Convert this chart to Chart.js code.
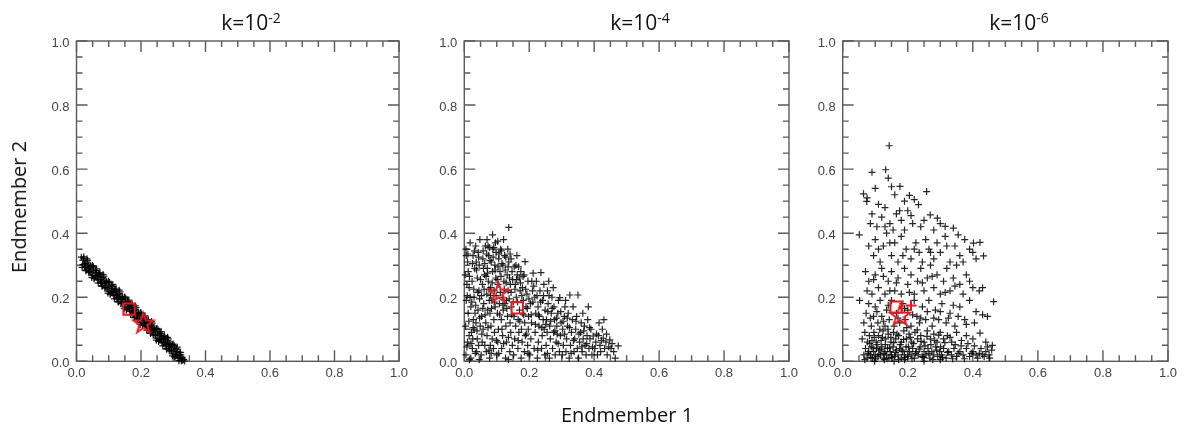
<!DOCTYPE html>
<html><head><meta charset="utf-8">
<script src="https://cdn.jsdelivr.net/npm/chart.js@4.4.1/dist/chart.umd.min.js"></script>
<style>
html,body{margin:0;padding:0;background:#fff;}
body{width:1195px;height:433px;overflow:hidden;position:relative;font-family:"Open Sans",sans-serif;}
canvas{position:absolute;top:0;}
.txt{position:absolute;font-size:20px;line-height:20px;color:#111;white-space:nowrap;}
.title{transform:translateX(-50%);top:12px;font-size:21px;}
.title sup{font-size:14px;vertical-align:baseline;position:relative;top:-7px;}
</style>
</head><body>
<canvas id="c1" width="394" height="400" style="left:20px"></canvas>
<canvas id="c2" width="394" height="400" style="left:410px"></canvas>
<canvas id="c3" width="393" height="400" style="left:790px"></canvas>
<div class="txt title" style="left:251px">k=10<sup>-2</sup></div>
<div class="txt title" style="left:640px">k=10<sup>-4</sup></div>
<div class="txt title" style="left:1019px">k=10<sup>-6</sup></div>
<div class="txt" style="left:627px;top:405px;transform:translateX(-50%)">Endmember 1</div>
<div class="txt" style="left:19px;top:207px;transform:translate(-50%,-50%) rotate(-90deg)">Endmember 2</div>
<script>
// ---------- DATA ----------
const panelTitles = ['k=10-2', 'k=10-4', 'k=10-6'];
const xAxisTitle = 'Endmember 1';
const yAxisTitle = 'Endmember 2';
const tickLabelValues = [0, 0.2, 0.4, 0.6, 0.8, 1.0];
const tickMarkValues = [0,0.05,0.1,0.15,0.2,0.25,0.3,0.35,0.4,0.45,0.5,0.55,0.6,0.65,0.7,0.75,0.8,0.85,0.9,0.95,1.0];
const majorTickValues = [0, 0.2, 0.4, 0.6, 0.8, 1.0];

// k = 1e-2 : samples (Endmember 1, Endmember 2)
const samplesK2 = [
[0.015,0.325],[0.02,0.302],[0.022,0.322],[0.025,0.292],[0.028,0.306],[0.03,0.285],[0.033,0.31],[0.035,0.292],[0.038,0.3],[0.04,0.28],
[0.043,0.298],[0.045,0.278],[0.048,0.297],[0.05,0.268],[0.052,0.282],[0.055,0.26],[0.058,0.285],[0.06,0.267],[0.062,0.276],[0.065,0.255],
[0.068,0.273],[0.07,0.253],[0.072,0.273],[0.075,0.244],[0.078,0.257],[0.08,0.236],[0.082,0.262],[0.085,0.243],[0.088,0.251],[0.09,0.231],
[0.092,0.25],[0.095,0.229],[0.098,0.248],[0.1,0.219],[0.103,0.232],[0.105,0.211],[0.108,0.236],[0.11,0.218],[0.112,0.227],[0.115,0.206],
[0.118,0.224],[0.12,0.204],[0.122,0.224],[0.125,0.195],[0.128,0.208],[0.13,0.187],[0.133,0.212],[0.135,0.194],[0.138,0.202],[0.14,0.182],
[0.142,0.201],[0.145,0.18],[0.148,0.199],[0.15,0.17],[0.153,0.183],[0.155,0.162],[0.158,0.187],[0.16,0.169],[0.162,0.178],[0.165,0.157],
[0.168,0.175],[0.17,0.155],[0.172,0.175],[0.175,0.146],[0.178,0.159],[0.18,0.138],[0.183,0.163],[0.185,0.145],[0.188,0.153],[0.19,0.133],
[0.193,0.151],[0.195,0.131],[0.198,0.15],[0.2,0.121],[0.203,0.134],[0.205,0.113],[0.208,0.138],[0.21,0.12],[0.213,0.128],[0.215,0.108],
[0.218,0.126],[0.22,0.106],[0.223,0.126],[0.225,0.097],[0.228,0.11],[0.23,0.089],[0.233,0.114],[0.235,0.096],[0.238,0.104],[0.24,0.084],
[0.243,0.102],[0.245,0.082],[0.248,0.101],[0.25,0.072],[0.253,0.085],[0.255,0.064],[0.258,0.089],[0.26,0.071],[0.263,0.079],[0.265,0.059],
[0.268,0.077],[0.27,0.057],[0.273,0.077],[0.275,0.048],[0.278,0.061],[0.28,0.04],[0.283,0.065],[0.285,0.047],[0.288,0.055],[0.29,0.035],
[0.293,0.053],[0.295,0.033],[0.298,0.052],[0.3,0.023],[0.303,0.036],[0.305,0.015],[0.308,0.04],[0.31,0.022],[0.313,0.03],[0.315,0.01],
[0.318,0.028],[0.32,0.008],[0.323,0.02],[0.325,0.002],[0.328,0.012],[0.33,0.004],
[0.0175,0.293],[0.0225,0.326],[0.0275,0.297],[0.0325,0.32],[0.0375,0.278],[0.0425,0.296],[0.0475,0.262],[0.0525,0.295],[0.0575,0.264],[0.0625,0.289],
[0.0675,0.244],[0.0725,0.277],[0.0775,0.248],[0.0825,0.271],[0.0875,0.229],[0.0925,0.247],[0.0975,0.213],[0.1025,0.246],[0.1075,0.215],[0.1125,0.24],
[0.1175,0.195],[0.1225,0.228],[0.1275,0.199],[0.1325,0.222],[0.1375,0.18],[0.1425,0.198],[0.1475,0.164],[0.1525,0.197],[0.1575,0.166],[0.1625,0.191],
[0.1675,0.146],[0.1725,0.179],[0.1775,0.15],[0.1825,0.173],[0.1875,0.131],[0.1925,0.149],[0.1975,0.115],[0.2025,0.148],[0.2075,0.117],[0.2125,0.142],
[0.2175,0.097],[0.2225,0.13],[0.2275,0.101],[0.2325,0.124],[0.2375,0.082],[0.2425,0.1],[0.2475,0.066],[0.2525,0.099],[0.2575,0.068],[0.2625,0.093],
[0.2675,0.048],[0.2725,0.081],[0.2775,0.052],[0.2825,0.075],[0.2875,0.033],[0.2925,0.051],[0.2975,0.017],[0.3025,0.05],[0.3075,0.019],[0.3125,0.044],
[0.3175,0.002],[0.3225,0.028],[0.3275,0.003],[0.3325,0.006],[0.3355,0.001],
[0.0195,0.316],[0.0245,0.304],[0.0295,0.283],[0.0345,0.315],[0.0395,0.291],[0.0445,0.277],[0.0495,0.299],[0.0545,0.258],[0.0595,0.283],[0.0645,0.264],
[0.0695,0.267],[0.0745,0.255],[0.0795,0.234],[0.0845,0.266],[0.0895,0.242],[0.0945,0.228],[0.0995,0.25],[0.1045,0.209],[0.1095,0.234],[0.1145,0.215],
[0.1195,0.218],[0.1245,0.206],[0.1295,0.185],[0.1345,0.217],[0.1395,0.193],[0.1445,0.179],[0.1495,0.201],[0.1545,0.16],[0.1595,0.185],[0.1645,0.166],
[0.1695,0.169],[0.1745,0.157],[0.1795,0.136],[0.1845,0.168],[0.1895,0.144],[0.1945,0.13],[0.1995,0.152],[0.2045,0.111],[0.2095,0.136],[0.2145,0.117],
[0.2195,0.12],[0.2245,0.108],[0.2295,0.087],[0.2345,0.119],[0.2395,0.095],[0.2445,0.081],[0.2495,0.103],[0.2545,0.062],[0.2595,0.087],[0.2645,0.068],
[0.2695,0.071],[0.2745,0.059],[0.2795,0.038],[0.2845,0.07],[0.2895,0.046],[0.2945,0.032],[0.2995,0.054],[0.3045,0.013],[0.3095,0.038],[0.3145,0.019],
[0.3195,0.022],[0.3245,0.01]
];
// k = 1e-4
const samplesK4 = [
[0.005,0.02],[0.01,0.06],[0.004,0.11],[0.012,0.15],[0.006,0.19],[0.015,0.23],[0.003,0.27],[0.01,0.31],[0.005,0.35],[0.018,0.37],
[0.02,0.01],[0.025,0.04],[0.022,0.09],[0.028,0.13],[0.02,0.17],[0.03,0.2],[0.024,0.25],[0.032,0.29],[0.027,0.33],[0.035,0.36],
[0.038,0.03],[0.04,0.07],[0.036,0.12],[0.042,0.16],[0.045,0.22],[0.04,0.26],[0.046,0.3],[0.043,0.34],[0.048,0.38],[0.015,0.08],
[0.008,0.24],[0.03,0.1],[0.033,0.15],[0.012,0.28],[0.018,0.2],[0.037,0.31],[0.044,0.05],[0.049,0.11],[0.006,0.33],[0.026,0.07],
[0.052,0.02],[0.055,0.06],[0.058,0.1],[0.053,0.14],[0.06,0.18],[0.056,0.24],[0.062,0.27],[0.057,0.32],[0.065,0.36],[0.068,0.03],
[0.07,0.08],[0.066,0.12],[0.072,0.16],[0.069,0.21],[0.074,0.25],[0.071,0.29],[0.075,0.33],[0.07,0.38],[0.078,0.01],[0.08,0.05],
[0.082,0.11],[0.079,0.15],[0.085,0.19],[0.081,0.23],[0.087,0.28],[0.083,0.31],[0.088,0.35],[0.087,0.395],[0.09,0.04],[0.093,0.09],
[0.091,0.13],[0.095,0.17],[0.092,0.22],[0.097,0.26],[0.094,0.3],[0.098,0.34],[0.096,0.37],[0.063,0.05],[0.077,0.19],[0.086,0.07],
[0.059,0.29],[0.073,0.36],
[0.1,0.02],[0.103,0.06],[0.105,0.1],[0.102,0.15],[0.108,0.18],[0.104,0.24],[0.11,0.28],[0.106,0.32],[0.112,0.35],[0.115,0.04],
[0.118,0.08],[0.114,0.13],[0.12,0.16],[0.117,0.2],[0.122,0.25],[0.119,0.3],[0.124,0.33],[0.121,0.38],[0.127,0.01],[0.13,0.06],
[0.128,0.11],[0.133,0.14],[0.13,0.19],[0.135,0.22],[0.132,0.27],[0.137,0.31],[0.134,0.35],[0.137,0.418],[0.14,0.03],[0.143,0.09],
[0.141,0.12],[0.145,0.17],[0.142,0.24],[0.147,0.28],[0.144,0.32],[0.148,0.05],[0.125,0.18],[0.116,0.1],[0.139,0.26],
[0.152,0.02],[0.155,0.07],[0.158,0.11],[0.153,0.14],[0.16,0.2],[0.157,0.24],[0.163,0.27],[0.159,0.3],[0.165,0.04],[0.168,0.09],
[0.166,0.13],[0.17,0.16],[0.172,0.22],[0.169,0.26],[0.175,0.01],[0.178,0.06],[0.176,0.1],[0.18,0.15],[0.182,0.19],[0.179,0.23],
[0.185,0.03],[0.187,0.311],[0.188,0.08],[0.186,0.12],[0.19,0.17],[0.193,0.21],[0.195,0.05],[0.197,0.1],[0.198,0.14],[0.196,0.25],
[0.162,0.33],[0.174,0.28],[0.184,0.27],
[0.202,0.02],[0.205,0.07],[0.207,0.12],[0.204,0.18],[0.21,0.22],[0.212,0.275],[0.215,0.04],[0.218,0.09],[0.22,0.15],[0.217,0.2],
[0.222,0.25],[0.225,0.01],[0.228,0.06],[0.23,0.11],[0.227,0.17],[0.233,0.22],[0.236,0.277],[0.238,0.04],[0.24,0.08],[0.243,0.13],
[0.241,0.19],[0.245,0.24],[0.248,0.02],[0.246,0.1],[0.249,0.16],[0.208,0.25],[0.231,0.14],
[0.252,0.05],[0.255,0.09],[0.253,0.13],[0.258,0.18],[0.256,0.22],[0.262,0.01],[0.265,0.07],[0.263,0.11],[0.268,0.15],[0.27,0.2],
[0.272,0.04],[0.275,0.09],[0.278,0.13],[0.276,0.17],[0.28,0.02],[0.283,0.06],[0.285,0.11],[0.288,0.15],[0.29,0.19],[0.294,0.199],
[0.293,0.03],[0.296,0.08],[0.298,0.12],[0.26,0.25],[0.274,0.23],
[0.302,0.02],[0.305,0.05],[0.303,0.1],[0.308,0.14],[0.31,0.17],[0.313,0.03],[0.315,0.07],[0.318,0.11],[0.32,0.15],[0.325,0.207],
[0.323,0.01],[0.327,0.05],[0.33,0.09],[0.333,0.13],[0.335,0.17],[0.338,0.03],[0.34,0.07],[0.343,0.1],[0.346,0.14],[0.35,0.207],
[0.348,0.04],[0.312,0.19],
[0.352,0.01],[0.355,0.06],[0.358,0.09],[0.36,0.12],[0.363,0.03],[0.366,0.07],[0.37,0.11],[0.372,0.05],[0.375,0.02],[0.378,0.08],
[0.38,0.13],[0.384,0.04],[0.387,0.07],[0.39,0.1],[0.393,0.02],[0.397,0.079],[0.365,0.15],[0.382,0.17],
[0.402,0.04],[0.405,0.06],[0.41,0.02],[0.413,0.08],[0.418,0.05],[0.42,0.03],[0.425,0.1],[0.428,0.072],[0.432,0.04],[0.436,0.06],
[0.44,0.02],[0.448,0.067],[0.452,0.04],[0.46,0.03],[0.474,0.048],[0.465,0.01],[0.415,0.12],[0.43,0.13],
[0.008,0.045],[0.014,0.125],[0.009,0.205],[0.016,0.265],[0.011,0.335],[0.021,0.055],[0.027,0.105],[0.023,0.185],[0.029,0.225],[0.025,0.305],
[0.031,0.345],[0.034,0.025],[0.039,0.095],[0.035,0.175],[0.041,0.215],[0.038,0.285],[0.044,0.325],[0.047,0.135],[0.047,0.195],[0.05,0.255],
[0.054,0.085],[0.057,0.165],[0.053,0.205],[0.061,0.225],[0.058,0.345],[0.064,0.145],[0.067,0.265],[0.063,0.305],[0.069,0.335],[0.073,0.105],
[0.076,0.225],[0.072,0.275],[0.079,0.315],[0.077,0.355],[0.084,0.165],[0.081,0.205],[0.086,0.245],[0.089,0.325],[0.083,0.025],[0.092,0.185],
[0.095,0.285],[0.091,0.355],[0.099,0.065],[0.098,0.205],[0.101,0.255],[0.104,0.295],[0.107,0.335],[0.103,0.375],[0.109,0.145],[0.111,0.215],
[0.113,0.265],[0.116,0.305],[0.114,0.345],[0.119,0.175],[0.123,0.225],[0.126,0.285],[0.121,0.055],[0.128,0.325],[0.131,0.165],[0.129,0.245],
[0.136,0.075],[0.138,0.195],[0.135,0.295],[0.141,0.335],[0.144,0.215],[0.146,0.145],[0.149,0.255],[0.151,0.185],[0.154,0.295],[0.156,0.225],
[0.161,0.255],[0.164,0.185],[0.167,0.295],[0.171,0.125],[0.173,0.245],[0.177,0.205],[0.181,0.265],[0.183,0.145],[0.189,0.225],[0.191,0.085],
[0.194,0.165],[0.199,0.195],[0.206,0.145],[0.211,0.185],[0.214,0.235],[0.219,0.115],[0.224,0.205],[0.229,0.145],[0.235,0.185],[0.239,0.105],
[0.244,0.205],[0.251,0.115],[0.257,0.155],[0.261,0.205],[0.266,0.125],[0.271,0.165],[0.279,0.095],[0.284,0.135],[0.289,0.055],[0.297,0.155],
[0.304,0.125],[0.309,0.085],[0.317,0.135],[0.324,0.105],[0.329,0.025],[0.336,0.065],[0.344,0.125],[0.353,0.085],[0.362,0.045],[0.368,0.095],
[0.377,0.055],[0.386,0.105],[0.395,0.045],[0.407,0.085],[0.422,0.065],[0.438,0.085],[0.445,0.045],[0.455,0.055],[0.016,0.005],[0.046,0.005],
[0.076,0.035],[0.106,0.025],[0.136,0.005],[0.166,0.065],[0.196,0.025],[0.226,0.035],[0.256,0.025],[0.286,0.085]
];
// k = 1e-6
const samplesK6 = [
[0.065,0.02],[0.07,0.04],[0.075,0.01],[0.08,0.03],[0.085,0.02],[0.088,0.045],[0.092,0.01],[0.095,0.03],[0.1,0.02],[0.104,0.04],
[0.108,0.015],[0.112,0.035],[0.116,0.02],[0.12,0.045],[0.125,0.01],[0.13,0.03],[0.134,0.02],[0.138,0.04],[0.142,0.01],[0.146,0.03],
[0.15,0.02],[0.155,0.045],[0.16,0.015],[0.165,0.035],[0.17,0.02],[0.175,0.04],[0.18,0.01],[0.185,0.03],[0.19,0.02],[0.195,0.045],
[0.2,0.015],[0.205,0.03],[0.21,0.02],[0.215,0.04],[0.22,0.01],[0.226,0.03],[0.232,0.02],[0.238,0.045],[0.244,0.015],[0.25,0.03],
[0.256,0.02],[0.262,0.04],[0.268,0.01],[0.274,0.03],[0.28,0.02],[0.286,0.045],[0.292,0.015],[0.298,0.03],[0.304,0.02],[0.31,0.04],
[0.318,0.01],[0.326,0.03],[0.334,0.02],[0.342,0.04],[0.35,0.015],[0.36,0.03],[0.37,0.02],[0.38,0.04],[0.39,0.015],[0.4,0.03],
[0.41,0.02],[0.42,0.025],[0.43,0.02],[0.44,0.03],[0.45,0.02],[0.458,0.035],[0.098,0.0],[0.128,0.005],[0.158,0.0],[0.19,0.005],
[0.25,0.0],[0.3,0.005],
[0.06,0.07],[0.068,0.09],[0.076,0.06],[0.082,0.08],[0.09,0.065],[0.096,0.09],[0.103,0.06],[0.11,0.08],[0.118,0.065],[0.124,0.095],
[0.132,0.07],[0.14,0.085],[0.148,0.06],[0.156,0.09],[0.163,0.07],[0.172,0.08],[0.18,0.06],[0.188,0.095],[0.196,0.07],[0.204,0.085],
[0.212,0.06],[0.222,0.09],[0.23,0.07],[0.24,0.08],[0.25,0.06],[0.26,0.095],[0.27,0.07],[0.28,0.085],[0.29,0.06],[0.3,0.09],
[0.31,0.07],[0.322,0.08],[0.335,0.06],[0.35,0.09],[0.365,0.065],[0.38,0.08],[0.4,0.07],[0.422,0.088],[0.44,0.06],[0.46,0.05],
[0.065,0.12],[0.072,0.15],[0.08,0.18],[0.088,0.11],[0.095,0.14],[0.1,0.17],[0.108,0.12],[0.115,0.19],[0.12,0.14],[0.13,0.11],
[0.135,0.16],[0.143,0.13],[0.15,0.19],[0.158,0.11],[0.165,0.15],[0.175,0.12],[0.185,0.18],[0.192,0.13],[0.2,0.16],[0.21,0.11],
[0.22,0.19],[0.228,0.14],[0.236,0.12],[0.245,0.17],[0.255,0.13],[0.265,0.19],[0.275,0.11],[0.285,0.16],[0.295,0.13],[0.305,0.18],
[0.318,0.12],[0.33,0.15],[0.345,0.11],[0.36,0.17],[0.375,0.13],[0.39,0.19],[0.405,0.12],[0.43,0.145],[0.464,0.186],[0.052,0.19],
[0.355,0.14],
[0.07,0.28],[0.08,0.25],[0.09,0.21],[0.1,0.27],[0.11,0.23],[0.12,0.29],[0.13,0.21],[0.14,0.25],[0.15,0.28],[0.16,0.22],
[0.17,0.26],[0.18,0.21],[0.19,0.29],[0.2,0.24],[0.21,0.27],[0.22,0.21],[0.23,0.25],[0.24,0.29],[0.25,0.22],[0.26,0.26],
[0.27,0.3],[0.28,0.23],[0.29,0.27],[0.3,0.21],[0.31,0.25],[0.32,0.29],[0.33,0.22],[0.34,0.26],[0.35,0.3],[0.36,0.24],
[0.37,0.21],[0.38,0.27],[0.4,0.23],[0.42,0.22],[0.075,0.22],[0.145,0.22],
[0.051,0.395],[0.08,0.36],[0.095,0.33],[0.1,0.38],[0.115,0.31],[0.125,0.36],[0.135,0.4],[0.15,0.33],[0.16,0.37],[0.17,0.31],
[0.18,0.39],[0.195,0.35],[0.21,0.32],[0.225,0.37],[0.235,0.34],[0.245,0.31],[0.255,0.38],[0.265,0.35],[0.28,0.32],[0.29,0.37],
[0.3,0.34],[0.315,0.39],[0.33,0.31],[0.345,0.36],[0.36,0.33],[0.375,0.38],[0.39,0.35],[0.41,0.32],[0.433,0.329],[0.37,0.31],
[0.074,0.499],[0.09,0.46],[0.105,0.42],[0.12,0.45],[0.13,0.48],[0.145,0.43],[0.155,0.41],[0.165,0.46],[0.18,0.44],[0.19,0.41],
[0.2,0.47],[0.215,0.43],[0.233,0.489],[0.25,0.44],[0.269,0.457],[0.291,0.447],[0.315,0.421],[0.34,0.416],[0.402,0.369],[0.422,0.371],
[0.28,0.41],[0.11,0.49],
[0.143,0.673],[0.09,0.59],[0.132,0.598],[0.14,0.572],[0.176,0.546],[0.064,0.523],[0.258,0.53],[0.205,0.518],[0.1,0.54],[0.16,0.52],
[0.22,0.505],[0.075,0.51],
[0.068,0.005],[0.078,0.025],[0.083,0.055],[0.087,0.012],[0.093,0.042],[0.097,0.075],[0.102,0.008],[0.106,0.052],[0.111,0.022],[0.114,0.1],
[0.118,0.038],[0.122,0.075],[0.127,0.025],[0.131,0.052],[0.136,0.008],[0.139,0.1],[0.144,0.042],[0.148,0.075],[0.152,0.012],[0.157,0.058],
[0.162,0.028],[0.167,0.085],[0.172,0.005],[0.177,0.052],[0.182,0.035],[0.187,0.068],[0.192,0.012],[0.197,0.105],[0.202,0.045],[0.208,0.075],
[0.213,0.008],[0.218,0.055],[0.224,0.025],[0.229,0.098],[0.235,0.038],[0.241,0.062],[0.247,0.012],[0.253,0.048],[0.259,0.078],[0.265,0.025],
[0.271,0.052],[0.277,0.005],[0.283,0.065],[0.289,0.035],[0.295,0.082],[0.301,0.045],[0.307,0.012],[0.314,0.058],[0.322,0.028],[0.33,0.075],
[0.338,0.008],[0.346,0.052],[0.355,0.025],[0.364,0.048],[0.374,0.008],[0.385,0.055],[0.395,0.025],[0.405,0.048],[0.415,0.01],[0.425,0.04],
[0.435,0.015],[0.445,0.045],[0.452,0.01],
[0.085,0.135],[0.105,0.155],[0.125,0.125],[0.14,0.175],[0.17,0.135],[0.19,0.165],[0.215,0.145],[0.24,0.135],[0.26,0.155],[0.28,0.135],
[0.3,0.155],[0.325,0.135],[0.34,0.175],[0.38,0.115],[0.41,0.155],[0.445,0.14],[0.095,0.255],[0.125,0.265],[0.165,0.245],[0.205,0.215],
[0.245,0.245],[0.275,0.265],[0.315,0.215],[0.345,0.235],[0.39,0.25],[0.43,0.23],[0.11,0.35],[0.145,0.37],[0.185,0.33],[0.22,0.35],
[0.27,0.34],[0.32,0.36],[0.355,0.395],[0.4,0.34],[0.13,0.42],[0.175,0.47],[0.21,0.455],[0.24,0.42],[0.3,0.43],[0.085,0.43],
[0.15,0.545],[0.19,0.5]
];
// reference markers (red)
const squareMarkers = [[0.163,0.163],[0.163,0.167],[0.164,0.169]];
const starMarkers   = [[0.207,0.119],[0.105,0.214],[0.176,0.143]];
const plusMarkers   = [[], [], [[0.21,0.174]]];

// ---------- STYLE / LAYOUT ----------
const AXIS_COLOR = '#5a5a5a';
const RED = '#e8191e';
const PANELS = [
  {id:'c1', pts:samplesK2, yw:56.5, right:15},
  {id:'c2', pts:samplesK4, yw:54.3, right:15},
  {id:'c3', pts:samplesK6, yw:52.7, right:15}
];

function starImage(R, lw, color){
  const s = Math.ceil(2*R + 2*lw + 2);
  const c = document.createElement('canvas'); c.width = s; c.height = s;
  const g = c.getContext('2d'); const cx = s/2, cy = s/2 + R*0.05; const r = R*0.40;
  g.beginPath();
  for (let i=0;i<10;i++){
    const a = -Math.PI/2 + i*Math.PI/5; const rr = (i%2) ? r : R;
    g.lineTo(cx + rr*Math.cos(a), cy + rr*Math.sin(a));
  }
  g.closePath(); g.strokeStyle = color; g.lineWidth = lw; g.lineJoin = 'miter'; g.stroke();
  return c;
}
const STAR = starImage(10.5, 2, RED);

const boxTicks = {
  id:'boxTicks',
  beforeDatasetsDraw(chart){
    const {ctx, chartArea:a, scales:{x, y}} = chart;
    ctx.save();
    ctx.strokeStyle = AXIS_COLOR; ctx.lineWidth = 1.4;
    ctx.strokeRect(a.left, a.top, a.right - a.left, a.bottom - a.top);
    ctx.beginPath();
    tickMarkValues.forEach(v => {
      const L = majorTickValues.some(m => Math.abs(m - v) < 1e-9) ? 11 : 6;
      const px = x.getPixelForValue(v), py = y.getPixelForValue(v);
      ctx.moveTo(px, a.bottom); ctx.lineTo(px, a.bottom - L);
      ctx.moveTo(px, a.top); ctx.lineTo(px, a.top + L);
      ctx.moveTo(a.left, py); ctx.lineTo(a.left + L, py);
      ctx.moveTo(a.right, py); ctx.lineTo(a.right - L, py);
    });
    ctx.stroke();
    ctx.restore();
  }
};

const toXY = arr => arr.map(([x, y]) => ({x, y}));
const tickFont = {family:'"Liberation Sans", Arial, sans-serif', size:13};

PANELS.forEach((p, i) => {
  const datasets = [
    {data:toXY([starMarkers[i]]), pointStyle:STAR, pointRadius:10, order:0, clip:false},
    {data:toXY([squareMarkers[i]]), pointStyle:'rect', pointRadius:8, pointBorderColor:RED, pointBackgroundColor:'rgba(0,0,0,0)', pointBorderWidth:2, order:0, clip:false},
    {data:toXY(plusMarkers[i]), pointStyle:'cross', pointRadius:5.5, pointBorderColor:RED, pointBorderWidth:2, order:0, clip:false},
    {data:toXY(p.pts), pointStyle:'cross', pointRadius:3.5, pointBorderColor:'rgba(0,0,0,0.85)', pointBorderWidth:1.2, order:1, clip:false}
  ];
  new Chart(document.getElementById(p.id), {
    type:'scatter',
    data:{datasets},
    options:{
      responsive:false, animation:false, events:[],
      layout:{padding:{top:41, right:p.right, left:0, bottom:0}},
      plugins:{legend:{display:false}, tooltip:{enabled:false}, title:{display:false}},
      scales:{
        x:{type:'linear', min:0, max:1, position:'bottom',
           grid:{display:false, drawTicks:false}, border:{display:false},
           afterBuildTicks: s => { s.ticks = tickLabelValues.map(v => ({value:v})); },
           ticks:{padding:4, color:'#444', font:tickFont, maxRotation:0, autoSkip:false, callback:v => v.toFixed(1)},
           afterFit: s => { s.height = 38.7; }},
        y:{type:'linear', min:0, max:1, position:'left',
           grid:{display:false, drawTicks:false}, border:{display:false},
           afterBuildTicks: s => { s.ticks = tickLabelValues.map(v => ({value:v})); },
           ticks:{padding:7, labelOffset:2, color:'#444', font:tickFont, autoSkip:false, callback:v => v.toFixed(1)},
           afterFit: s => { s.width = p.yw; }}
      }
    },
    plugins:[boxTicks]
  });
});
</script>
</body></html>
